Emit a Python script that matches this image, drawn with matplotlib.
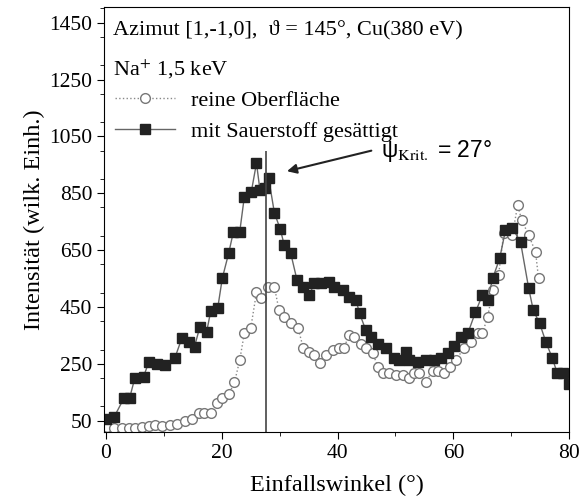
import matplotlib
matplotlib.use("Agg")
import matplotlib.pyplot as plt
from matplotlib.ticker import MultipleLocator

plt.rcParams['font.family'] = ['Liberation Serif', 'DejaVu Serif']
plt.rcParams['mathtext.fontset'] = 'stix'

# mit Sauerstoff gesaettigt (filled squares)
x_sq = [0.0, 1.4, 3.1, 4.1, 5.0, 6.5, 7.4, 8.8, 10.2, 11.9,
        13.1, 14.3, 15.3, 16.2, 17.4, 18.1, 19.3, 20.1, 21.2, 22.0,
        23.1, 23.9, 25.1, 26.0, 26.6, 27.4, 28.1, 29.1, 30.1, 30.8,
        31.9, 33.0, 34.1, 35.1, 36.0, 37.2, 38.5, 39.4, 41.0, 42.0,
        43.2, 43.8, 44.9, 45.8, 47.0, 48.4, 49.7, 50.6, 51.8, 52.3,
        53.9, 55.2, 56.6, 57.8, 59.0, 60.1, 61.3, 62.5, 63.8, 65.0,
        65.9, 66.8, 68.0, 69.0, 70.2, 71.6, 73.0, 73.8, 74.9, 76.0,
        77.1, 77.9, 79.0, 80.0]
y_sq = [57, 62, 128, 130, 200, 205, 255, 248, 245, 270,
        339, 328, 310, 378, 363, 435, 445, 551, 639, 713,
        713, 837, 854, 956, 861, 868, 903, 780, 724, 667,
        640, 544, 519, 491, 533, 533, 537, 519, 508, 484,
        473, 427, 367, 343, 321, 304, 269, 262, 290, 262,
        255, 262, 262, 269, 286, 314, 343, 357, 431, 491,
        473, 551, 621, 720, 727, 678, 516, 438, 392, 325,
        269, 219, 216, 180]

# reine Oberflaeche (open circles)
x_ci = [0.2, 1.4, 2.8, 4.0, 5.0, 6.2, 7.4, 8.4, 9.6, 11.0,
        12.2, 13.6, 14.8, 16.0, 17.0, 18.2, 19.1, 20.0, 21.2, 22.2,
        23.1, 23.9, 25.0, 26.0, 26.8, 28.0, 29.1, 29.9, 30.8, 31.9,
        33.2, 34.1, 35.1, 36.0, 37.0, 38.0, 39.2, 40.3, 41.1, 42.0,
        42.8, 44.0, 44.9, 46.1, 47.0, 47.8, 48.9, 50.1, 51.3, 52.3,
        53.2, 54.0, 55.2, 56.4, 57.3, 58.3, 59.5, 60.5, 61.8, 63.0,
        64.2, 65.0, 65.9, 66.8, 67.8, 68.7, 70.2, 71.1, 71.8, 73.0,
        74.2, 74.7]
y_ci = [29, 25, 25, 25, 25, 29, 32, 36, 32, 36,
        39, 50, 57, 78, 78, 78, 113, 131, 142, 184,
        262, 357, 374, 501, 480, 519, 519, 438, 413, 392,
        374, 304, 290, 279, 251, 279, 297, 304, 307, 350,
        343, 321, 307, 286, 237, 219, 216, 209, 209, 198,
        219, 216, 184, 226, 226, 216, 237, 262, 307, 325,
        357, 357, 413, 508, 561, 710, 703, 808, 755, 703,
        642, 551]

psi_krit = 27.7
y_ticks = [50, 250, 450, 650, 850, 1050, 1250, 1450]
x_ticks = [0, 20, 40, 60, 80]

fig = plt.figure(figsize=(5.82, 5.04), dpi=100)
ax = fig.add_axes([0.179, 0.143, 0.799, 0.843])

ax.plot(x_ci, y_ci, ls=':', lw=1.0, color='#888888', marker='o', ms=7,
        mfc='white', mec='#777777', mew=1.0, label='reine Oberfläche')
ax.plot(x_sq, y_sq, ls='-', lw=1.0, color='#666666', marker='s', ms=7.2,
        mfc='#222222', mec='#222222', label='mit Sauerstoff gesättigt')

ax.vlines(psi_krit, 0, 1000, color='#444444', lw=1.2)

ax.set_xlim(-0.3, 80)
ax.set_ylim(10, 1505)
ax.set_xticks(x_ticks)
ax.set_yticks(y_ticks)
ax.xaxis.set_minor_locator(MultipleLocator(10))
ax.yaxis.set_minor_locator(MultipleLocator(100))
ax.tick_params(which='both', direction='out', top=False, right=False, labelsize=15.5)
ax.tick_params(which='major', length=5)
ax.tick_params(which='minor', length=3)

ax.set_xlabel('Einfallswinkel (°)', fontsize=17.5, labelpad=9)
ax.set_ylabel('Intensität (wilk. Einh.)', fontsize=17.5, labelpad=3)

ax.text(0.018, 0.97, 'Azimut [1,-1,0],  ϑ = 145°, Cu(380 eV)', transform=ax.transAxes,
        fontsize=16, va='top', ha='left')
ax.text(0.018, 0.88, 'Na$^{+}$ 1,5 keV', transform=ax.transAxes,
        fontsize=16, va='top', ha='left')

leg = ax.legend(loc='upper left', bbox_to_anchor=(-0.005, 0.835), frameon=False,
                fontsize=16, handlelength=2.7, handletextpad=0.7, labelspacing=0.45,
                borderaxespad=0.2)

ax.annotate('', xy=(30.8, 925), xytext=(46.3, 1002),
            arrowprops=dict(arrowstyle='-|>', color='#222222', lw=1.5,
                            mutation_scale=14))
ax.text(47.5, 1000, r'ψ$_{\mathrm{Krit.}}$ = 27°', fontsize=16.5,
        family=['Liberation Sans', 'DejaVu Sans'], va='center', ha='left')

fig.savefig('out.png', dpi=100)
